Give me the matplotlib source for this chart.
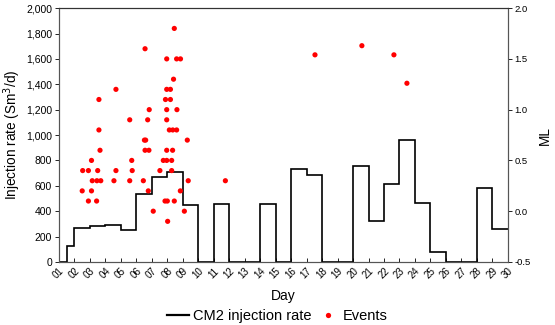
import matplotlib
matplotlib.use("Agg")
import matplotlib.pyplot as plt
from matplotlib.lines import Line2D
from matplotlib.ticker import FuncFormatter, MultipleLocator

plt.rcParams['font.family'] = ['Liberation Sans', 'DejaVu Sans']

# Daily CM2 injection rate (Sm3/d) as a step series between day edges
rate_edges = [1, 1.5, 2, 3, 4, 5, 6, 7, 8, 9, 10, 11, 12, 13, 14, 15, 16, 17,
              18, 19, 20, 21, 22, 23, 24, 25, 26, 27, 28, 29, 30]
rate_values = [0, 122, 268, 283, 289, 250, 535, 667, 711, 445, 0, 460, 0, 0,
               460, 0, 732, 686, 0, 0, 758, 322, 618, 960, 462, 76, 0, 0, 580, 262]

# Seismic events: time (day) and magnitude (ML)
event_days = [
    8.45,
    6.56,
    7.96, 8.6, 8.85,
    8.4,
    4.68, 7.96, 8.2,
    3.58, 7.88, 8.2,
    6.83, 7.96, 8.62,
    5.57, 6.73, 7.96,
    3.58, 8.13, 8.35, 8.6,
    6.52, 6.6, 9.29,
    3.65, 6.56, 6.81, 7.96, 8.34,
    3.1, 5.7, 7.74, 7.96, 8.28,
    2.53, 2.9, 3.5, 4.68, 5.73, 7.52, 8.28,
    3.15, 3.45, 3.7, 4.55, 5.57, 6.45, 9.35, 11.75,
    2.5, 3.1, 6.77, 8.84,
    2.9, 3.43, 7.85, 8.0, 8.45,
    7.09, 9.1,
    8.02,
    17.54, 20.57, 22.64, 23.48,
]
event_ml = [
    1.8,
    1.6,
    1.5, 1.5, 1.5,
    1.3,
    1.2, 1.2, 1.2,
    1.1, 1.1, 1.1,
    1.0, 1.0, 1.0,
    0.9, 0.9, 0.9,
    0.8, 0.8, 0.8, 0.8,
    0.7, 0.7, 0.7,
    0.6, 0.6, 0.6, 0.6, 0.6,
    0.5, 0.5, 0.5, 0.5, 0.5,
    0.4, 0.4, 0.4, 0.4, 0.4, 0.4, 0.4,
    0.3, 0.3, 0.3, 0.3, 0.3, 0.3, 0.3, 0.3,
    0.2, 0.2, 0.2, 0.2,
    0.1, 0.1, 0.1, 0.1, 0.1,
    0.0, 0.0,
    -0.1,
    1.54, 1.63, 1.54, 1.26,
]

day_ticks = list(range(1, 31))
day_labels = [f"{d:02d}" for d in day_ticks]

fig = plt.figure(figsize=(5.55, 3.25), dpi=100)
ax = fig.add_axes([0.1063, 0.194, 0.8087, 0.781])
ax2 = ax.twinx()

ax.stairs(rate_values, rate_edges, baseline=None, color='black', linewidth=1.2)
ax2.scatter(event_days, event_ml, s=14, color='#ff0000', edgecolors='none', zorder=3)

ax.set_xlim(1, 30)
ax.set_ylim(0, 2000)
ax2.set_ylim(-0.5, 2.0)

ax.yaxis.set_major_locator(MultipleLocator(200))
ax.yaxis.set_major_formatter(FuncFormatter(lambda v, p: f"{int(v):,}"))
ax2.yaxis.set_major_locator(MultipleLocator(0.5))
ax2.yaxis.set_major_formatter(FuncFormatter(lambda v, p: f"{v:.1f}"))

ax.set_xticks(day_ticks)
ax.set_xticklabels(day_labels, rotation=45, ha='right', rotation_mode='anchor')
ax.tick_params(axis='x', direction='in', length=3, width=0.6, labelsize=7, pad=3)
ax.tick_params(axis='y', direction='out', length=3, width=0.6, labelsize=7.5, pad=2)
ax2.tick_params(axis='y', direction='out', length=3, width=0.6, labelsize=6.8, pad=2)

for a in (ax, ax2):
    for side in ('left', 'right', 'bottom'):
        a.spines[side].set_color('#555555')
        a.spines[side].set_linewidth(0.8)
    a.spines['top'].set_color('#333333')
    a.spines['top'].set_linewidth(0.8)

ax.set_xlabel("Day", fontsize=10, labelpad=6)
ax.set_ylabel("Injection rate (Sm$^3$/d)", fontsize=9.8, labelpad=2)
ax2.set_ylabel("ML", fontsize=9.8, labelpad=5)

handles = [
    Line2D([], [], color='black', linewidth=1.6, label='CM2 injection rate'),
    Line2D([], [], color='#ff0000', marker='o', linestyle='none', markersize=3.8,
           markeredgewidth=0, label='Events'),
]
fig.legend(handles=handles, loc='lower center', bbox_to_anchor=(0.5, -0.035), ncol=2,
           frameon=False, fontsize=10.5, columnspacing=0.4, handlelength=1.5,
           handletextpad=0.25)

fig.savefig("out.png", dpi=100)
